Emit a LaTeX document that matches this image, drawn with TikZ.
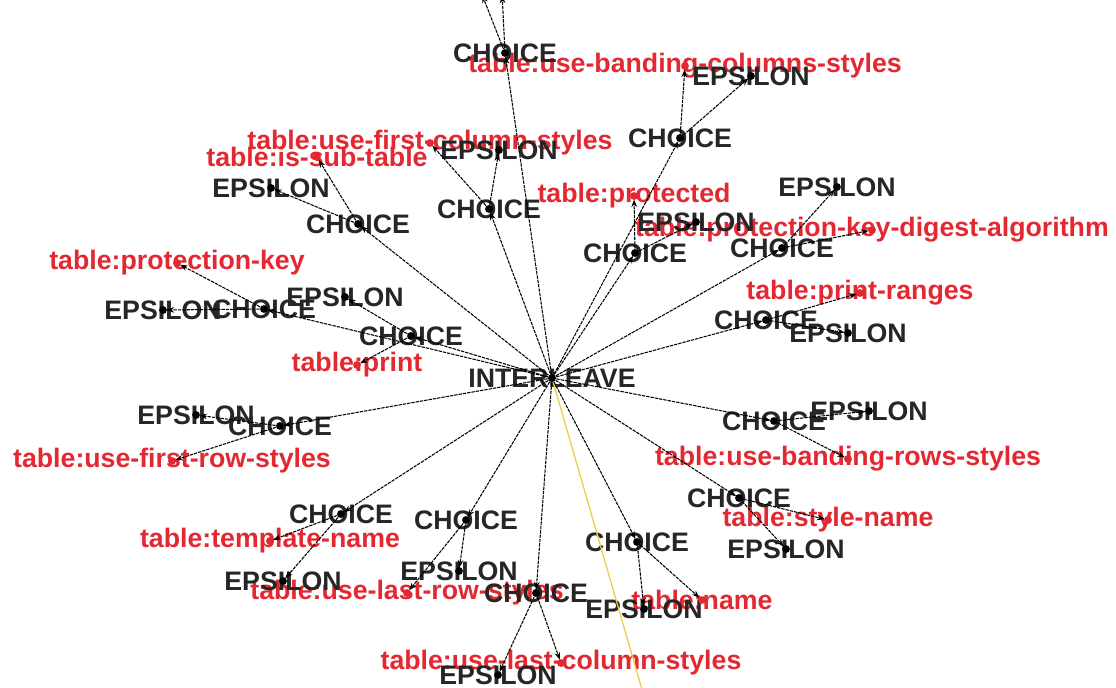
\documentclass[tikz,border=0pt]{standalone}
\usepackage{fontspec}
\setmainfont{Liberation Sans}
\usetikzlibrary{arrows.meta}
\definecolor{opgray}{RGB}{38,38,38}
\definecolor{attrred}{RGB}{228,40,50}
\definecolor{hilite}{RGB}{238,206,70}
\tikzset{
  op/.style={font=\bfseries\fontsize{19}{22}\selectfont, text=opgray, inner sep=0pt},
  attr/.style={font=\bfseries\fontsize{19}{22}\selectfont, text=attrred, inner sep=0pt},
  link/.style={-{Stealth[length=5.5pt,width=4pt]}, line width=0.75pt, shorten >=2.4pt, dash pattern=on 2.4pt off 0.7pt},
}
\begin{document}
\begin{tikzpicture}[x=0.025cm, y=-0.025cm]
  \clip (0,0) rectangle (1116,687);
  \fill[white] (0,0) rectangle (1116,687);
  % attributes
  \node[attr] (aBcol)  at (685,66)  {table:use-banding-columns-styles};
  \node[attr] (aFcol)  at (430,143) {table:use-first-column-styles};
  \node[attr] (aSub)   at (317,157) {table:is-sub-table};
  \node[attr] (aProt)  at (634,196) {table:protected};
  \node[attr] (aDig)   at (872,230) {table:protection-key-digest-algorithm};
  \node[attr] (aKey)   at (177,263) {table:protection-key};
  \node[attr] (aRng)   at (860,293) {table:print-ranges};
  \node[attr] (aPrint) at (357,365) {table:print};
  \node[attr] (aFrow)  at (172,461) {table:use-first-row-styles};
  \node[attr] (aBrow)  at (848,459) {table:use-banding-rows-styles};
  \node[attr] (aStyle) at (828,520) {table:style-name};
  \node[attr] (aTmpl)  at (270,541) {table:template-name};
  \node[attr] (aLrow)  at (407,593) {table:use-last-row-styles};
  \node[attr] (aName)  at (702,600) {table:name};
  \node[attr] (aLcol)  at (561,663) {table:use-last-column-styles};
  % empty branches
  \node[op] (eBcol)  at (751,76)  {EPSILON};
  \node[op] (eFcol)  at (499,150) {EPSILON};
  \node[op] (eSub)   at (271,188) {EPSILON};
  \node[op] (eDig)   at (837,187) {EPSILON};
  \node[op] (eProt)  at (696,222) {EPSILON};
  \node[op] (ePrint) at (345,297) {EPSILON};
  \node[op] (eKey)   at (163,310) {EPSILON};
  \node[op] (eRng)   at (848,333) {EPSILON};
  \node[op] (eBrow)  at (869,411) {EPSILON};
  \node[op] (eFrow)  at (196,415) {EPSILON};
  \node[op] (eStyle) at (786,549) {EPSILON};
  \node[op] (eLrow)  at (459,571) {EPSILON};
  \node[op] (eTmpl)  at (283,581) {EPSILON};
  \node[op] (eName)  at (644,609) {EPSILON};
  \node[op] (eLcol)  at (498,675) {EPSILON};
  % choices
  \node[op] (cTop)   at (505,53)  {CHOICE};
  \node[op] (cBcol)  at (680,138) {CHOICE};
  \node[op] (cFcol)  at (489,209) {CHOICE};
  \node[op] (cSub)   at (358,224) {CHOICE};
  \node[op] (cProt)  at (635,253) {CHOICE};
  \node[op] (cDig)   at (782,248) {CHOICE};
  \node[op] (cKey)   at (264,309) {CHOICE};
  \node[op] (cPrint) at (411,336) {CHOICE};
  \node[op] (cRng)   at (766,320) {CHOICE};
  \node[op] (cFrow)  at (280,426) {CHOICE};
  \node[op] (cBrow)  at (774,421) {CHOICE};
  \node[op] (cStyle) at (739,498) {CHOICE};
  \node[op] (cTmpl)  at (341,514) {CHOICE};
  \node[op] (cLrow)  at (466,520) {CHOICE};
  \node[op] (cLcol)  at (536,593) {CHOICE};
  \node[op] (cName)  at (637,542) {CHOICE};
  \node[op] (il)     at (552,378) {INTERLEAVE};
  \coordinate (offA) at (481,-8);
  \coordinate (offB) at (502,-8);
  \coordinate (offC) at (645,700);
  % edges
  \draw[hilite, line width=0.9pt] (il.center) -- (offC);
  \draw[link] (il.center) -- (cTop.center);
  \draw[link] (il.center) -- (cBcol.center);
  \draw[link] (il.center) -- (cFcol.center);
  \draw[link] (il.center) -- (cSub.center);
  \draw[link] (il.center) -- (cProt.center);
  \draw[link] (il.center) -- (cDig.center);
  \draw[link] (il.center) -- (cKey.center);
  \draw[link] (il.center) -- (cPrint.center);
  \draw[link] (il.center) -- (cRng.center);
  \draw[link] (il.center) -- (cFrow.center);
  \draw[link] (il.center) -- (cBrow.center);
  \draw[link] (il.center) -- (cStyle.center);
  \draw[link] (il.center) -- (cTmpl.center);
  \draw[link] (il.center) -- (cLrow.center);
  \draw[link] (il.center) -- (cLcol.center);
  \draw[link] (il.center) -- (cName.center);
  \draw[link] (cTop.center) -- (offA);
  \draw[link] (cTop.center) -- (offB);
  \draw[link] (cBcol.center) -- (aBcol.center);
  \draw[link] (cBcol.center) -- (eBcol.center);
  \draw[link] (cFcol.center) -- (aFcol.center);
  \draw[link] (cFcol.center) -- (eFcol.center);
  \draw[link] (cSub.center) -- (aSub.center);
  \draw[link] (cSub.center) -- (eSub.center);
  \draw[link] (cProt.center) -- (aProt.center);
  \draw[link] (cProt.center) -- (eProt.center);
  \draw[link] (cDig.center) -- (aDig.center);
  \draw[link] (cDig.center) -- (eDig.center);
  \draw[link] (cKey.center) -- (aKey.center);
  \draw[link] (cKey.center) -- (eKey.center);
  \draw[link] (cPrint.center) -- (aPrint.center);
  \draw[link] (cPrint.center) -- (ePrint.center);
  \draw[link] (cRng.center) -- (aRng.center);
  \draw[link] (cRng.center) -- (eRng.center);
  \draw[link] (cFrow.center) -- (aFrow.center);
  \draw[link] (cFrow.center) -- (eFrow.center);
  \draw[link] (cBrow.center) -- (aBrow.center);
  \draw[link] (cBrow.center) -- (eBrow.center);
  \draw[link] (cStyle.center) -- (aStyle.center);
  \draw[link] (cStyle.center) -- (eStyle.center);
  \draw[link] (cTmpl.center) -- (aTmpl.center);
  \draw[link] (cTmpl.center) -- (eTmpl.center);
  \draw[link] (cLrow.center) -- (aLrow.center);
  \draw[link] (cLrow.center) -- (eLrow.center);
  \draw[link] (cLcol.center) -- (aLcol.center);
  \draw[link] (cLcol.center) -- (eLcol.center);
  \draw[link] (cName.center) -- (aName.center);
  \draw[link] (cName.center) -- (eName.center);
  % dots
  \foreach \n in {il,cTop,cBcol,cFcol,cSub,cProt,cDig,cKey,cPrint,cRng,cFrow,cBrow,cStyle,cTmpl,cLrow,cLcol,cName,
      eBcol,eFcol,eSub,eDig,eProt,ePrint,eKey,eRng,eBrow,eFrow,eStyle,eLrow,eTmpl,eName,eLcol}
    \fill[black] (\n.center) circle (2.8pt);
  \foreach \n in {aBcol,aFcol,aSub,aProt,aDig,aKey,aRng,aPrint,aFrow,aBrow,aStyle,aTmpl,aLrow,aName,aLcol}
    \fill[attrred] (\n.center) circle (2.8pt);
\end{tikzpicture}
\end{document}
